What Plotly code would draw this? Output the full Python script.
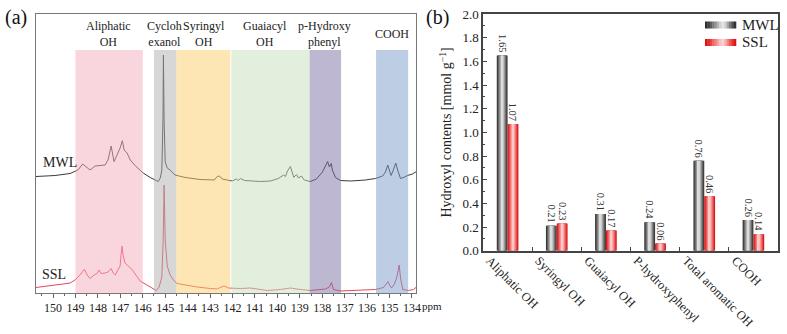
import plotly.graph_objects as go

# ---------------- data ----------------
# Panel (a): 31P NMR spectra (ppm, intensity in arbitrary units)
mwl_ppm = [150.76, 149.91, 149.24, 148.89, 148.68, 148.53, 148.35, 148.13, 147.90, 147.68,
           147.55, 147.41, 147.28, 147.14, 147.01, 146.91, 146.83, 146.70, 146.56, 146.30,
           145.98, 145.67, 145.45, 145.31, 145.22, 145.15, 145.10, 145.08, 145.05, 145.00,
           144.91, 144.78, 144.56, 144.11, 143.44, 142.81, 142.68, 142.58, 142.46, 142.01,
           141.83, 141.74, 141.65, 141.47, 140.76, 140.31, 139.96, 139.72, 139.64, 139.55,
           139.42, 139.33, 139.27, 139.15, 139.06, 138.93, 138.80, 138.53, 138.26, 137.99,
           137.86, 137.76, 137.68, 137.60, 137.55, 137.41, 137.19, 136.74, 136.07, 135.63,
           135.31, 135.18, 135.08, 135.00, 134.93, 134.83, 134.72, 134.64, 134.51, 134.33,
           134.20, 133.98, 133.80]
mwl_int = [116.5, 117.5, 119.5, 123, 129, 126, 123, 127, 127.5, 128,
           133, 147, 131.3, 138, 145, 152.3, 143, 140, 133, 126.5,
           120, 115.5, 113, 111.5, 115, 123, 173, 238, 173, 131,
           125, 123, 118, 115.5, 113.5, 113, 116.5, 117, 114, 112,
           114, 112.5, 114.5, 112.5, 111.5, 112, 114.5, 118, 116.5, 122,
           126.5, 120, 115.7, 118.5, 115, 117, 113, 111.5, 114, 121,
           127, 131.5, 126, 129.5, 123, 115.5, 112.5, 112, 113, 114.5,
           117, 121, 128, 122, 117.5, 123, 130, 123, 114.5, 116,
           117.5, 119, 121.5]

ssl_ppm = [150.76, 150.13, 149.55, 149.24, 149.02, 148.80, 148.60, 148.48, 148.35, 148.17,
           148.04, 147.95, 147.86, 147.68, 147.55, 147.41, 147.32, 147.23, 147.10, 147.01,
           146.97, 146.92, 146.88, 146.79, 146.65, 146.52, 146.34, 146.12, 145.89, 145.67,
           145.40, 145.27, 145.15, 145.09, 145.05, 145.00, 144.91, 144.78, 144.64, 144.47,
           144.11, 143.57, 142.99, 142.68, 142.55, 142.37, 142.19, 141.65, 141.21, 140.45,
           139.87, 139.42, 138.98, 138.53, 137.86, 137.68, 137.59, 137.50, 137.19, 136.29,
           135.63, 135.27, 135.14, 135.07, 135.00, 134.91, 134.78, 134.67, 134.57, 134.51,
           134.41, 134.15, 133.93, 133.80]
ssl_int = [5.5, 7, 9, 10, 13, 18, 23.7, 18, 14.5, 18,
           19.5, 23, 19.5, 20, 21, 24.5, 20, 18, 23, 27,
           38, 47, 38, 30, 27, 24.5, 19, 12, 9, 6,
           2.5, 6, 16, 53, 108, 53, 27, 18, 13, 9.5,
           8, 6, 4.5, 4, 5.5, 7, 5, 4.5, 5, 2.5,
           3.5, 5, 3.5, 2.5, 4, 6, 10.5, 3.5, 2, 2.5,
           3.5, 5.5, 9, 11.5, 8, 5, 9, 16, 28, 15,
           3.5, 2.5, 3.5, 6]

region_names = ["Aliphatic<br>OH", "Cycloh<br>exanol", "Syringyl<br>OH", "Guaiacyl<br>OH",
                "p-Hydroxy<br>phenyl", "COOH"]
region_start = [149.0, 145.5, 144.5, 142.05, 138.56, 135.6]
region_end = [146.0, 144.5, 142.1, 138.56, 137.16, 134.17]
region_label_pos = [147.55, 145.05, 143.26, 140.54, 137.9, 134.87]
ppm_ticks = [150, 149, 148, 147, 146, 145, 144, 143, 142, 141, 140, 139, 138, 137, 136, 135, 134]

# Panel (b): hydroxyl contents
categories = ["Aliphatic OH", "Syringyl OH", "Guaiacyl OH", "P-hydroxyphenyl",
              "Total aromatic OH", "COOH"]
mwl_values = [1.65, 0.21, 0.31, 0.24, 0.76, 0.26]
ssl_values = [1.07, 0.23, 0.17, 0.06, 0.46, 0.14]

# ---------------- styling ----------------
FONT = "Liberation Serif"
W, H = 787, 334
region_colors = ["rgba(243,171,187,0.5)", "rgba(175,175,175,0.5)", "rgba(251,205,105,0.5)",
                 "rgba(197,223,185,0.5)", "rgba(125,111,165,0.5)", "rgba(121,155,201,0.5)"]
mwl_shades = ["#363636", "#555555", "#787878", "#9c9c9c", "#bdbdbd", "#dcdcdc"]
ssl_shades = ["#d41414", "#e23a3a", "#ec5c5c", "#f48080", "#f9a4a4", "#fdc8c8"]


def px(x):
    return x / W


def py(y):
    return (H - y) / H


fig = go.Figure()

# Panel (a) spectra
fig.add_trace(go.Scatter(x=mwl_ppm, y=mwl_int, mode="lines", line=dict(color="#3a3a3a", width=1),
                         showlegend=False, xaxis="x", yaxis="y"))
fig.add_trace(go.Scatter(x=ssl_ppm, y=ssl_int, mode="lines", line=dict(color="#e4485a", width=1),
                         showlegend=False, xaxis="x", yaxis="y"))

# Panel (b) bars with cylinder-like shading built from layered bars
BW = 0.22
n = len(mwl_shades)
for series_vals, shades, center in ((mwl_values, mwl_shades, -BW / 2), (ssl_values, ssl_shades, BW / 2)):
    for k, col in enumerate(shades):
        w = BW * (1 - k / n)
        kw = {}
        if k == 0:
            kw = dict(text=[f"{v:.2f}" for v in series_vals], textposition="outside",
                      textangle=90, textfont=dict(family=FONT, size=10.5, color="#333"),
                      constraintext="none", cliponaxis=False)
        fig.add_trace(go.Bar(x=categories, y=series_vals, width=[w] * len(categories),
                             offset=[center - w / 2] * len(categories),
                             marker=dict(color=col, line=dict(width=0)),
                             showlegend=False, xaxis="x2", yaxis="y2", **kw))

shapes = []
for s, e, c in zip(region_start, region_end, region_colors):
    shapes.append(dict(type="rect", xref="x", yref="y", x0=s, x1=e, y0=0, y1=243,
                       fillcolor=c, line=dict(width=0), layer="above"))

annotations = []
for name, pos in zip(region_names, region_label_pos):
    annotations.append(dict(x=pos, xref="x", y=py(34), yref="paper", text=name, showarrow=False,
                            font=dict(family=FONT, size=12, color="#222"), xanchor="center",
                            yanchor="middle", align="center"))

annotations += [
    dict(x=px(41), y=py(162), xref="paper", yref="paper", text="MWL", showarrow=False,
         xanchor="left", yanchor="middle", font=dict(family=FONT, size=14, color="#222")),
    dict(x=px(40), y=py(274), xref="paper", yref="paper", text="SSL", showarrow=False,
         xanchor="left", yanchor="middle", font=dict(family=FONT, size=14, color="#222")),
    dict(x=px(420), y=py(306), xref="paper", yref="paper", text="ppm", showarrow=False,
         xanchor="left", yanchor="middle", font=dict(family=FONT, size=11, color="#222")),
    dict(x=px(3), y=py(18), xref="paper", yref="paper", text="(a)", showarrow=False,
         xanchor="left", yanchor="middle", font=dict(family=FONT, size=20, color="#111")),
    dict(x=px(424), y=py(18), xref="paper", yref="paper", text="(b)", showarrow=False,
         xanchor="left", yanchor="middle", font=dict(family=FONT, size=20, color="#111")),
    dict(x=px(740), y=py(25), xref="paper", yref="paper", text="MWL", showarrow=False,
         xanchor="left", yanchor="middle", font=dict(family=FONT, size=15, color="#222")),
    dict(x=px(740), y=py(42.5), xref="paper", yref="paper", text="SSL", showarrow=False,
         xanchor="left", yanchor="middle", font=dict(family=FONT, size=15, color="#222")),
]

# legend swatches with gradient
leg_mwl = ["#2e2e2e", "#444444", "#5e5e5e", "#7a7a7a", "#979797", "#b5b5b5", "#d2d2d2",
           "#e6e6e6", "#d0d0d0", "#a8a8a8", "#7c7c7c", "#505050", "#333333"]
leg_ssl = ["#e01010", "#e42828", "#e94444", "#ee6262", "#f38282", "#f7a2a2", "#fbc0c0",
           "#fdd2d2", "#f9b0b0", "#f38484", "#ec5858", "#e43030", "#de1515"]
x0, x1 = 705, 736
step = (x1 - x0) / len(leg_mwl)
for cols, (ya, yb) in ((leg_mwl, (21.5, 28.5)), (leg_ssl, (39, 46))):
    for i, c in enumerate(cols):
        shapes.append(dict(type="rect", xref="paper", yref="paper",
                           x0=px(x0 + i * step), x1=px(x0 + (i + 1) * step + 0.3),
                           y0=py(yb), y1=py(ya), fillcolor=c, line=dict(width=0)))

fig.update_layout(
    width=W, height=H, margin=dict(l=0, r=0, t=0, b=0, autoexpand=False),
    paper_bgcolor="white", plot_bgcolor="white",
    barmode="overlay", showlegend=False,
    font=dict(family=FONT, color="#222"),
    xaxis=dict(domain=[px(36), px(416)], range=[150.76, 133.82], showgrid=False, zeroline=False,
               tickmode="array", tickvals=ppm_ticks, ticks="outside", ticklen=4, tickcolor="#666",
               tickfont=dict(family=FONT, size=12, color="#222"), automargin=False,
               minor=dict(ticks="outside", ticklen=2, dtick=0.5, tickcolor="#666"),
               showline=True, linecolor="#777", linewidth=1, mirror=True),
    yaxis=dict(domain=[py(293), py(14)], range=[0, 279], showgrid=False, zeroline=False,
               showticklabels=False, ticks="", showline=True, linecolor="#777", linewidth=1,
               mirror=True, automargin=False),
    xaxis2=dict(domain=[px(483), px(778)], range=[-0.5, 5.5], anchor="y2", showgrid=False,
                type="category", ticks="inside", tickson="boundaries", ticklen=4,
                tickangle=45, tickfont=dict(family=FONT, size=12.5, color="#222"),
                ticklabelshift=-18, ticklabelstandoff=-4, automargin=False,
                showline=True, linecolor="#444", linewidth=1.5, mirror=True, tickcolor="#444"),
    yaxis2=dict(domain=[py(250.7), py(14)], range=[0, 2.0], anchor="x2", showgrid=False,
                zeroline=False, dtick=0.2, tickformat=".1f", ticks="inside", ticklen=4,
                tickcolor="#444", tickfont=dict(family=FONT, size=13, color="#222"),
                minor=dict(ticks="inside", ticklen=2, dtick=0.1, tickcolor="#444"),
                showline=True, linecolor="#444", linewidth=1.5, mirror=True, automargin=False,
                title=dict(text="Hydroxyl contents [mmol g<sup>\u22121</sup>]",
                           font=dict(family=FONT, size=14, color="#222"), standoff=7)),
    shapes=shapes, annotations=annotations,
)

fig.write_html("out.html", config={"displayModeBar": False},
               post_script="document.body.style.margin='0';document.body.style.overflow='hidden';")
